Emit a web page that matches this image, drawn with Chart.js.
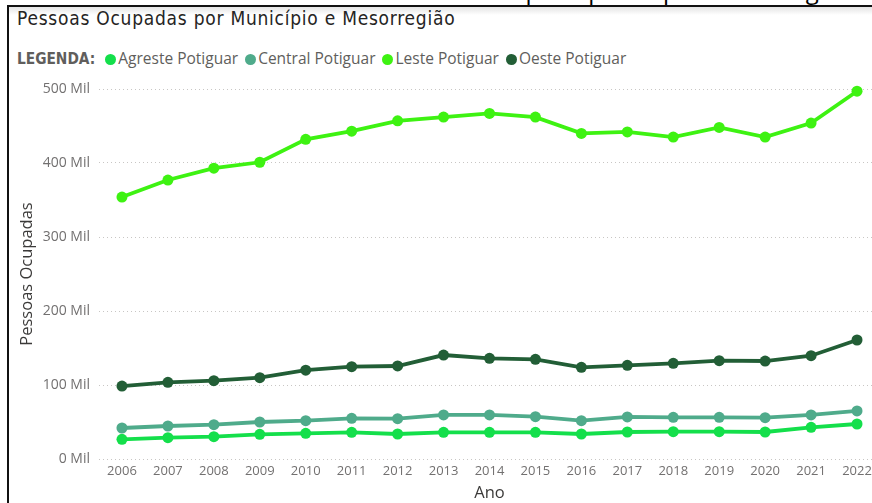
<!DOCTYPE html>
<html>
<head>
<meta charset="utf-8">
<script src="https://cdn.jsdelivr.net/npm/chart.js@4"></script>
<style>
  html, body { margin: 0; padding: 0; background: #fff; }
  body { width: 872px; height: 503px; overflow: hidden; position: relative; }
  .topclip { position: absolute; left: 0; top: 0; width: 872px; height: 5px; overflow: hidden; }
  .topclip span { position: absolute; left: 400px; top: -25px; font: 24px "Open Sans", sans-serif; line-height: 30px; color: #000; white-space: nowrap; letter-spacing: 2px; }
  .hline { position: absolute; left: 7px; top: 5px; width: 870px; height: 2px; background: #111; }
  .vline { position: absolute; left: 7px; top: 5px; width: 2px; height: 500px; background: #111; }
  .shadow { position: absolute; left: 9px; top: 7px; width: 872px; height: 8px; background: linear-gradient(#e4e4e4, rgba(255,255,255,0)); }
  .title { position: absolute; left: 17px; top: 7px; font: 19px "DejaVu Sans Condensed", "Liberation Sans Narrow", sans-serif; letter-spacing: 0.75px; color: #252423; }
  .legend { position: absolute; left: 17px; top: 47px; font: 15.5px "Open Sans", sans-serif; color: #605e5c; white-space: nowrap; }
  .legend b { font: bold 15.3px "DejaVu Sans Condensed", sans-serif; margin-right: 10px; }
  .legend .it { margin-right: 7px; }
  .legend .dot { display: inline-block; width: 11px; height: 11px; border-radius: 50%; margin-right: 2px; vertical-align: -0.5px; }
  .wrap { position: absolute; left: 9px; top: 70px; width: 880px; height: 433px; }
</style>
</head>
<body>
<div class="topclip"><span>os municípios principais das regiões geográficas,</span></div>
<div class="shadow"></div>
<div class="hline"></div>
<div class="vline"></div>
<div class="title">Pessoas Ocupadas por Município e Mesorregião</div>
<div class="legend" id="legend"><b>LEGENDA:</b></div>
<div class="wrap"><canvas id="canv"></canvas></div>
<script>
// valores em milhares de pessoas (Mil)
const anos = ['2006','2007','2008','2009','2010','2011','2012','2013','2014','2015','2016','2017','2018','2019','2020','2021','2022'];
const mesorregioes = ['Agreste Potiguar', 'Central Potiguar', 'Leste Potiguar', 'Oeste Potiguar'];
const cores = ['#14df4b', '#4fab8b', '#3ef212', '#225e36'];

const agreste = [26.6, 28.8, 30.2, 33.3, 34.7, 36.0, 33.8, 36.0, 36.0, 36.0, 33.8, 36.5, 36.9, 36.9, 36.5, 42.8, 47.3];
const central = [41.9, 44.6, 46.4, 50.0, 51.8, 55.0, 54.5, 59.5, 59.5, 57.2, 51.8, 56.8, 56.3, 56.3, 55.9, 59.5, 64.9];
const leste   = [354, 377, 393, 401, 432, 443, 457, 462, 467, 462, 440, 442, 435, 448, 435, 454, 497];
const oeste   = [98.6, 103.6, 105.9, 109.9, 120.0, 124.8, 125.7, 140.5, 136.0, 134.7, 123.9, 126.6, 129.3, 132.9, 132.4, 139.6, 160.8];

const yTicks = [0, 100, 200, 300, 400, 500];

const series = [agreste, central, leste, oeste];

const legendEl = document.getElementById('legend');
mesorregioes.forEach((nome, i) => {
    const s = document.createElement('span');
    s.className = 'it';
    s.innerHTML = '<span class="dot" style="background:' + cores[i] + '"></span>' + nome;
    legendEl.appendChild(s);
});

const datasets = mesorregioes.map((nome, i) => ({
    label: nome,
    data: series[i],
    borderColor: cores[i],
    backgroundColor: cores[i],
    borderWidth: 3.8,
    pointRadius: 5.5,
    pointHoverRadius: 5.5,
    pointBorderWidth: 0,
    tension: 0,
    clip: false
})).reverse();

const tickFont = { family: '"Open Sans", sans-serif', size: 13 };
const titleFont = { family: '"Open Sans", sans-serif', size: 16.5 };

new Chart(document.getElementById('canv').getContext('2d'), {
    type: 'line',
    data: { labels: anos, datasets: datasets },
    options: {
        responsive: true,
        maintainAspectRatio: false,
        animation: false,
        layout: { padding: { top: 19, right: 9, left: 0, bottom: 0 } },
        plugins: { legend: { display: false }, title: { display: false }, tooltip: { enabled: false } },
        scales: {
            x: {
                offset: true,
                grid: { display: false, drawTicks: false },
                border: { display: false },
                ticks: { color: '#727070', font: tickFont, padding: 4, maxRotation: 0, autoSkip: false },
                title: { display: true, text: 'Ano', color: '#3b3a39', font: titleFont, padding: { top: 0, bottom: 0 } },
                afterFit: (scale) => { scale.height = 44; }
            },
            y: {
                min: 0,
                max: 500,
                afterBuildTicks: (scale) => { scale.ticks = yTicks.map(v => ({ value: v })); },
                grid: { color: '#c8c6c4', lineWidth: 1, drawTicks: false },
                border: { display: false, dash: [1, 3] },
                ticks: { color: '#727070', font: { family: '"Open Sans", sans-serif', size: 14 }, padding: 9, callback: (v) => v + ' Mil' },
                title: { display: true, text: 'Pessoas Ocupadas', color: '#3b3a39', font: titleFont, padding: { top: 8, bottom: 0 } },
                afterFit: (scale) => { scale.width = 90; }
            }
        }
    }
});
</script>
</body>
</html>
